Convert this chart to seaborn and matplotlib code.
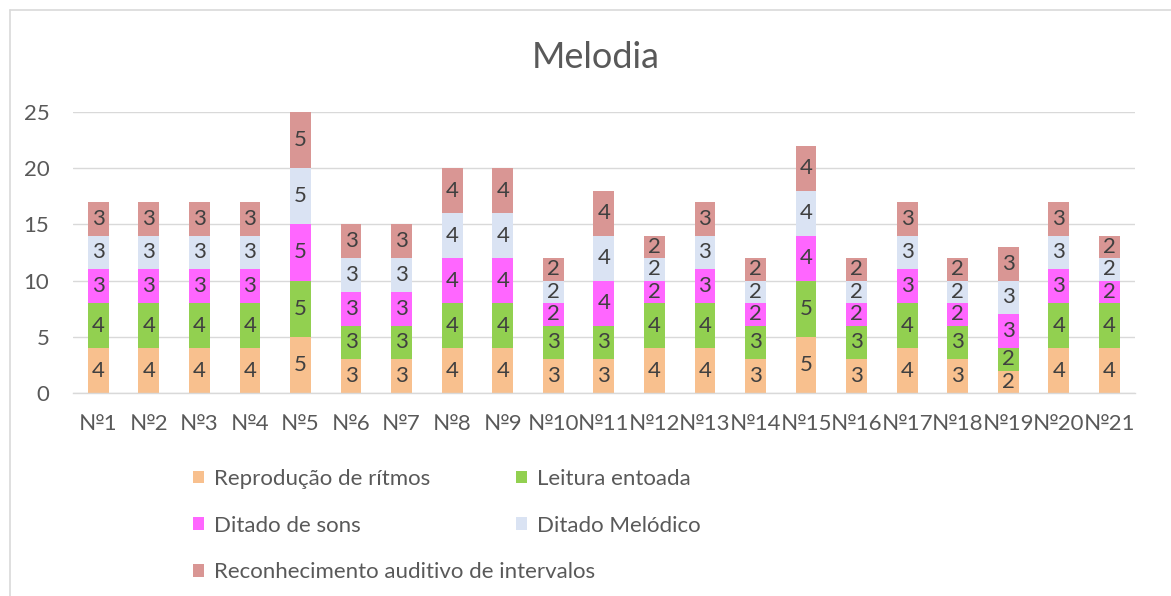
import matplotlib
matplotlib.use("Agg")
import matplotlib.pyplot as plt
import seaborn as sns
import pandas as pd
from matplotlib.patches import Patch
from matplotlib.lines import Line2D

# ======================================
# Data
# ======================================

categories = [f"№{i}" for i in range(1, 22)]

reproducao = [4, 4, 4, 4, 5, 3, 3, 4, 4, 3, 3, 4, 4, 3, 5, 3, 4, 3, 2, 4, 4]
leitura = [4, 4, 4, 4, 5, 3, 3, 4, 4, 3, 3, 4, 4, 3, 5, 3, 4, 3, 2, 4, 4]
ditado_sons = [3, 3, 3, 3, 5, 3, 3, 4, 4, 2, 4, 2, 3, 2, 4, 2, 3, 2, 3, 3, 2]
ditado_melodico = [3, 3, 3, 3, 5, 3, 3, 4, 4, 2, 4, 2, 3, 2, 4, 2, 3, 2, 3, 3, 2]
reconhecimento = [3, 3, 3, 3, 5, 3, 3, 4, 4, 2, 4, 2, 3, 2, 4, 2, 3, 2, 3, 3, 2]

series_names = [
    "Reprodução de rítmos",
    "Leitura entoada",
    "Ditado de sons",
    "Ditado Melódico",
    "Reconhecimento auditivo de intervalos",
]
series_values = [reproducao, leitura, ditado_sons, ditado_melodico, reconhecimento]
colors = ["#F8C08E", "#92D050", "#FF66FF", "#DAE3F3", "#D99694"]

TEXT = "#595959"

# ======================================
# Plot
# ======================================

sns.set_style("white")
plt.rcParams["font.family"] = ["Lato", "DejaVu Sans"]

fig = plt.figure(figsize=(11.71, 5.96), dpi=100)
ax = fig.add_axes([0.0623, 0.3406, 0.9067, 0.4715])

bottom = [0] * len(categories)
for name, vals, col in zip(series_names, series_values, colors):
    df = pd.DataFrame({"cat": categories, "val": vals})
    sns.barplot(
        data=df, x="cat", y="val", bottom=bottom, color=col,
        width=0.41, ax=ax, saturation=1, linewidth=0, label=name
    )
    bottom = [b + v for b, v in zip(bottom, vals)]

for cont in ax.containers:
    ax.bar_label(cont, label_type="center", fontsize=16, color="#404040")

ax.set_ylim(0, 25)
ax.set_yticks([0, 5, 10, 15, 20, 25])
ax.set_xlim(-0.5, len(categories) - 0.5)
ax.set_xlabel("")
ax.set_ylabel("")
ax.yaxis.grid(True, color="#D9D9D9", linewidth=1)
ax.set_axisbelow(True)
for s in ["top", "right", "left"]:
    ax.spines[s].set_visible(False)
ax.spines["bottom"].set_color("#D9D9D9")
ax.spines["bottom"].set_linewidth(1)
ax.tick_params(axis="both", length=0, labelsize=16, labelcolor=TEXT)
ax.tick_params(axis="x", pad=15)
ax.tick_params(axis="y", pad=17)
if ax.get_legend():
    ax.get_legend().remove()

fig.text(0.509, 0.903, "Melodia", ha="center", va="center", fontsize=26, color=TEXT)

# legend, two columns placed like the original
handles = [Patch(facecolor=c, edgecolor="none") for c in colors]
leg_kw = dict(
    frameon=False, fontsize=16, labelcolor=TEXT, handlelength=0.5,
    handleheight=0.5, handletextpad=0.45, labelspacing=1.2,
    borderaxespad=0, borderpad=0
)
leg1 = fig.legend(
    [handles[0], handles[2], handles[4]],
    [series_names[0], series_names[2], series_names[4]],
    loc="upper left", bbox_to_anchor=(0.165, 0.213), **leg_kw
)
leg2 = fig.legend(
    [handles[1], handles[3]],
    [series_names[1], series_names[3]],
    loc="upper left", bbox_to_anchor=(0.4405, 0.213), **leg_kw
)

# chart border (left and top edge)
fig.add_artist(Line2D([0.0085, 0.0085], [0, 0.983], color="#D9D9D9", linewidth=1.2))
fig.add_artist(Line2D([0.0085, 1], [0.983, 0.983], color="#D9D9D9", linewidth=1.2))

fig.savefig("out.png", dpi=100)
plt.close(fig)
